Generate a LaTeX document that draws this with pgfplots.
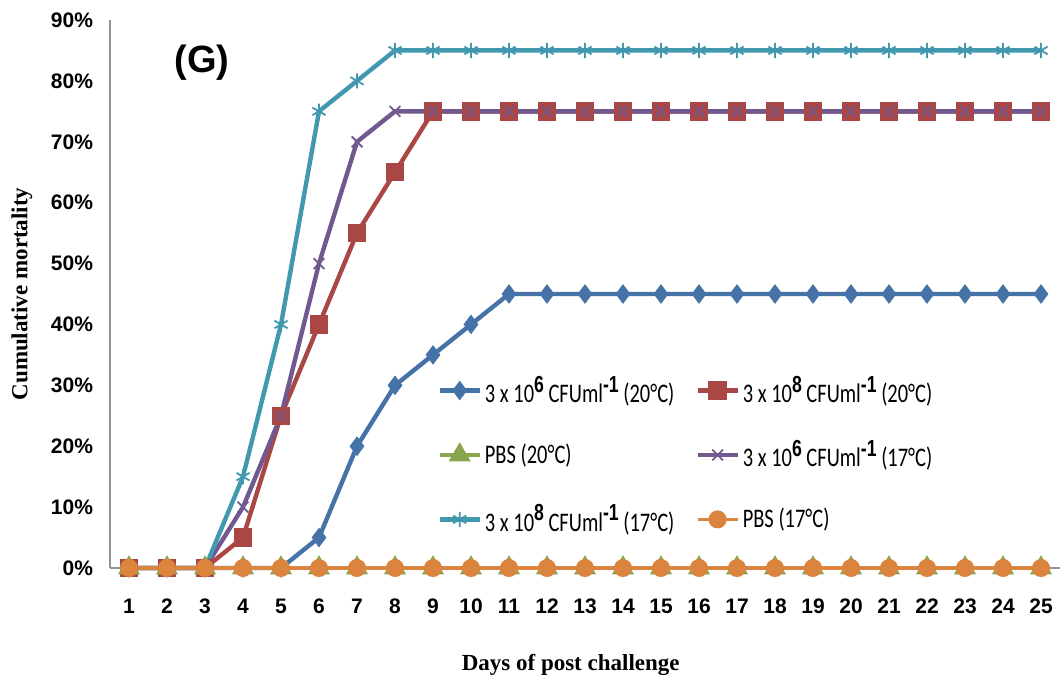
\documentclass[border=0pt]{standalone}
\usepackage{fontspec}
\setmainfont{Liberation Serif}
\newfontfamily\arialb{Liberation Sans}
\newfontfamily\calib{Carlito}
\usepackage{pgfplots}
\pgfplotsset{compat=1.18}
\definecolor{cBlue}{RGB}{69,114,167}
\definecolor{cRed}{RGB}{170,70,67}
\definecolor{cGreen}{RGB}{137,165,78}
\definecolor{cPurple}{RGB}{113,88,143}
\definecolor{cCyan}{RGB}{65,152,175}
\definecolor{cOrange}{RGB}{219,132,61}
\newcommand{\supx}[1]{\raisebox{0.8ex}{\arialb\bfseries\fontsize{9.5}{10}\selectfont #1}}
\newcommand{\lgt}[1]{\scalebox{0.93}[1.22]{#1}}
\begin{document}
\begin{tikzpicture}
\useasboundingbox (-55pt,-58pt) rectangle (477pt,284pt);
\begin{axis}[
  at={(0pt,0pt)}, anchor=south west,
  scale only axis,
  width=475pt, height=274pt,
  xmin=0.5, xmax=25.5, ymin=0, ymax=90,
  xtick={1,...,25}, ytick={0,10,...,90},
  /pgf/number format/assume math mode=true,
  yticklabel={\pgfmathprintnumber{\tick}\%},
  major tick length=0pt,
  axis x line*=bottom, axis y line*=left,
  axis line style={draw=gray!85, line width=1.2pt, -},
  tick label style={font=\arialb\bfseries\fontsize{10.5}{12}\selectfont},
  yticklabel style={xshift=-5pt},
  xticklabel style={yshift=-12pt},
  xlabel={\bfseries Days of post challenge},
  ylabel={\bfseries Cumulative mortality},
  label style={font=\bfseries\fontsize{11.5}{13}\selectfont},
  xlabel style={at={(axis description cs:0.485,0)}, anchor=center, yshift=-48.5pt},
  ylabel style={at={(axis description cs:0,0.5)}, anchor=center, xshift=0pt, yshift=44pt},
  clip=false,
  legend columns=2,
  legend cell align=left,
  legend style={draw=none, fill=none, at={(0.338,0.366)}, anchor=north west,
    font=\calib\fontsize{11}{13}\selectfont, row sep=13.5pt,
    nodes={inner xsep=1.5pt},
    /tikz/every even column/.append style={column sep=9pt}},
  legend image code/.code={\draw[mark repeat=2,mark phase=2,#1] plot coordinates {(0pt,0pt) (10pt,0pt) (20pt,0pt)};},
  every axis plot/.append style={line width=2.2pt},
]
\addplot[cBlue, mark=diamond*, mark size=3.1pt, mark options={solid}] coordinates {
(1,0)(2,0)(3,0)(4,0)(5,0)(6,5)(7,20)(8,30)(9,35)(10,40)(11,45)(12,45)(13,45)(14,45)(15,45)(16,45)(17,45)(18,45)(19,45)(20,45)(21,45)(22,45)(23,45)(24,45)(25,45)};
\addlegendentry{\lgt{3 x 10\supx{6} CFUml\supx{-1} (20\textdegree C)}}
\addplot[cRed, mark=square*, mark size=3.5pt] coordinates {
(1,0)(2,0)(3,0)(4,5)(5,25)(6,40)(7,55)(8,65)(9,75)(10,75)(11,75)(12,75)(13,75)(14,75)(15,75)(16,75)(17,75)(18,75)(19,75)(20,75)(21,75)(22,75)(23,75)(24,75)(25,75)};
\addlegendentry{\lgt{3 x 10\supx{8} CFUml\supx{-1} (20\textdegree C)}}
\addplot[cGreen, mark=triangle*, mark size=4.2pt] coordinates {
(1,0)(2,0)(3,0)(4,0)(5,0)(6,0)(7,0)(8,0)(9,0)(10,0)(11,0)(12,0)(13,0)(14,0)(15,0)(16,0)(17,0)(18,0)(19,0)(20,0)(21,0)(22,0)(23,0)(24,0)(25,0)};
\addlegendentry{\lgt{PBS (20\textdegree C)}}
\addplot[cPurple, mark=x, mark size=3.8pt, mark options={line width=0.9pt}] coordinates {
(1,0)(2,0)(3,0)(4,10)(5,25)(6,50)(7,70)(8,75)(9,75)(10,75)(11,75)(12,75)(13,75)(14,75)(15,75)(16,75)(17,75)(18,75)(19,75)(20,75)(21,75)(22,75)(23,75)(24,75)(25,75)};
\addlegendentry{\lgt{3 x 10\supx{6} CFUml\supx{-1} (17\textdegree C)}}
\addplot[cCyan, mark=asterisk, mark size=3.8pt, mark options={line width=0.9pt}] coordinates {
(1,0)(2,0)(3,0)(4,15)(5,40)(6,75)(7,80)(8,85)(9,85)(10,85)(11,85)(12,85)(13,85)(14,85)(15,85)(16,85)(17,85)(18,85)(19,85)(20,85)(21,85)(22,85)(23,85)(24,85)(25,85)};
\addlegendentry{\lgt{3 x 10\supx{8} CFUml\supx{-1} (17\textdegree C)}}
\addplot[cOrange, mark=*, mark size=3.7pt, line width=1.6pt] coordinates {
(1,0)(2,0)(3,0)(4,0)(5,0)(6,0)(7,0)(8,0)(9,0)(10,0)(11,0)(12,0)(13,0)(14,0)(15,0)(16,0)(17,0)(18,0)(19,0)(20,0)(21,0)(22,0)(23,0)(24,0)(25,0)};
\addlegendentry{\lgt{PBS (17\textdegree C)}}
\node[font=\arialb\bfseries\fontsize{19}{20}\selectfont] at (axis cs:2.92,83) {(G)};
\end{axis}
\end{tikzpicture}
\end{document}
